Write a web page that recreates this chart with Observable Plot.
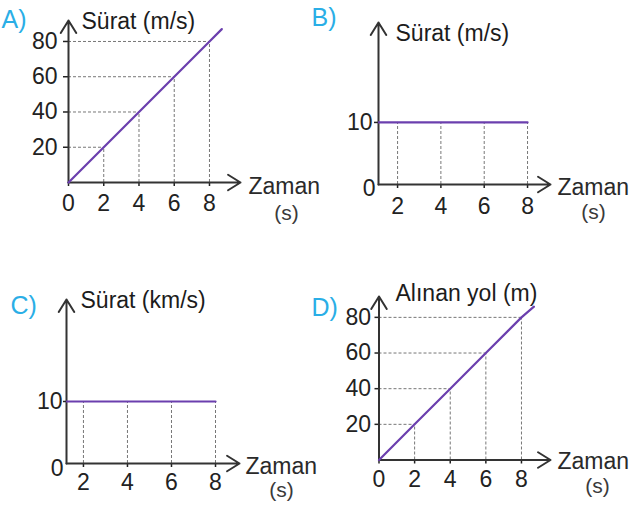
<!DOCTYPE html>
<html>
<head>
<meta charset="utf-8">
<script src="https://cdn.jsdelivr.net/npm/d3@7"></script>
<script src="https://cdn.jsdelivr.net/npm/@observablehq/plot@0.6"></script>
<style>
html, body { margin: 0; padding: 0; background: #fff; }
#chart { position: relative; width: 632px; height: 506px; overflow: hidden; background: #fff; }
#chart svg { position: absolute; left: 0; top: 0; }
</style>
</head>
<body>
<div id="chart"></div>
<script>
// ---------- data ----------
const panelLetters = ["A)", "B)", "C)", "D)"];
const yTitles = ["Sürat (m/s)", "Sürat (m/s)", "Sürat (km/s)", "Alınan yol (m)"];
const xTitle = "Zaman";
const xUnit = "(s)";

const xTicksAD = [0, 2, 4, 6, 8];
const xTicksBC = [2, 4, 6, 8];
const yTicksAD = [20, 40, 60, 80];
const yTicksBC = [10];
const yZeroBC = [0];

const guideTimes = [2, 4, 6, 8];

// A: speed rising linearly
const timesA = [0, 2, 4, 6, 8, 8.7];
const speedA = [0, 20, 40, 60, 80, 87];
const guideA = [20, 40, 60, 80];
// B: constant speed (m/s)
const timesB = [0, 8];
const speedB = [10, 10];
// C: constant speed (km/s)
const timesC = [0, 8];
const speedC = [10, 10];
// D: distance rising linearly
const timesD = [0, 2, 4, 6, 8, 8.7];
const distD = [0, 20, 40, 60, 80, 86];
const guideD = [20, 40, 60, 80];

// ---------- layout / style ----------
const W = 632, H = 506;
const FONT = "'Liberation Sans', Arial, Helvetica, sans-serif";
const AXIS = "#333", INK = "#1c1c1c", PURPLE = "#6b3fae", CYAN = "#2aaee6", GUIDE = "#777";

const pts = (xs, ys) => xs.map((t, i) => ({t, v: ys[i]}));

function panel(cfg) {
  const [x0, x1, y0, y1] = cfg.frame; // page px: axis origin x, arrow tip x, origin y, arrow tip y
  const ml = x0, mr = W - x1, mt = y1, mb = H - y0;
  const lab = (t, px, py, o = {}) => Plot.text([t], {
    text: d => d, frameAnchor: "top-left", dx: px - ml, dy: py - mt,
    lineAnchor: "bottom", textAnchor: "start", fontSize: 23, fill: INK, ...o
  });
  const [xmin, xmax] = cfg.xDomain, [ymin, ymax] = cfg.yDomain;
  const axes = Plot.arrow(
    [{x1: xmin, y1: 0, x2: xmax, y2: 0}, {x1: xmin, y1: 0, x2: xmin, y2: ymax}],
    {x1: "x1", y1: "y1", x2: "x2", y2: "y2", stroke: AXIS, strokeWidth: 2, headLength: 11, headAngle: 64}
  );
  return Plot.plot({
    width: W, height: H,
    marginLeft: ml, marginRight: mr, marginTop: mt, marginBottom: mb,
    x: {domain: cfg.xDomain},
    y: {domain: cfg.yDomain},
    style: {background: "transparent", fontFamily: FONT, overflow: "visible"},
    marks: [...cfg.marks(lab), axes, ...cfg.top(lab)]
  });
}

const guideStyle = {stroke: GUIDE, strokeWidth: 1, strokeDasharray: "3,2"};
const axisStyle = {fontSize: 23, color: "#222", strokeWidth: 1.5, label: null};

function textBlock(lab, i, L, T, Z, S) {
  return [
    lab(panelLetters[i], L[0], L[1], {fill: CYAN, fontSize: 25}),
    lab(yTitles[i], T[0], T[1]),
    lab(xTitle, Z[0], Z[1], {fill: "#2a2a2a"}),
    lab(xUnit, S[0], S[1], {fill: "#3a3a3a", textAnchor: "middle", fontSize: 21})
  ];
}

const panels = [
  // A
  {
    frame: [68, 240, 182, 20], xDomain: [0, 9.76], yDomain: [0, 91.9],
    marks: lab => [
      Plot.ruleX(pts(guideTimes, guideA), {x: "t", y1: 0, y2: "v", ...guideStyle}),
      Plot.ruleY(pts(guideTimes, guideA), {y: "v", x1: 0, x2: "t", ...guideStyle}),
      Plot.axisX({ticks: xTicksAD, tickSize: 4, tickPadding: 8, ...axisStyle}),
      Plot.axisY({ticks: yTicksAD, tickSize: 5, tickPadding: 6, ...axisStyle})
    ],
    top: lab => [
      Plot.line(pts(timesA, speedA), {x: "t", y: "v", stroke: PURPLE, strokeWidth: 2.2}),
      ...textBlock(lab, 0, [1, 27], [81, 28], [248, 193], [286, 219])
    ]
  },
  // B
  {
    frame: [378, 550, 184, 22], xDomain: [1.12, 9.06], yDomain: [0, 26.1],
    marks: lab => [
      Plot.ruleX(pts(guideTimes, guideTimes.map(() => speedB[0])), {x: "t", y1: 0, y2: "v", ...guideStyle}),
      Plot.axisX({ticks: xTicksBC, tickSize: 4, tickPadding: 9, ...axisStyle}),
      Plot.axisY({ticks: yTicksBC, tickSize: 4, tickPadding: 2, ...axisStyle}),
      Plot.axisY({ticks: yZeroBC, tickSize: 0, tickPadding: 3, dy: 4, ...axisStyle})
    ],
    top: lab => [
      Plot.line(pts(timesB, speedB), {x: "t", y: "v", stroke: PURPLE, strokeWidth: 2.2, clip: true}),
      ...textBlock(lab, 1, [311, 25], [395, 40], [557, 194], [593, 218])
    ]
  },
  // C
  {
    frame: [66, 239, 463, 299], xDomain: [1.23, 9.09], yDomain: [0, 26.45],
    marks: lab => [
      Plot.ruleX(pts(guideTimes, guideTimes.map(() => speedC[0])), {x: "t", y1: 0, y2: "v", ...guideStyle}),
      Plot.axisX({ticks: xTicksBC, tickSize: 4, tickPadding: 6, ...axisStyle}),
      Plot.axisY({ticks: yTicksBC, tickSize: 3, tickPadding: 1, ...axisStyle}),
      Plot.axisY({ticks: yZeroBC, tickSize: 0, tickPadding: 3, dy: 5, ...axisStyle})
    ],
    top: lab => [
      Plot.line(pts(timesC, speedC), {x: "t", y: "v", stroke: PURPLE, strokeWidth: 2.2, clip: true}),
      ...textBlock(lab, 2, [10, 313], [80, 307], [245, 473], [281, 496])
    ]
  },
  // D
  {
    frame: [378.5, 550, 459.5, 296], xDomain: [0, 9.63], yDomain: [0, 91.7],
    marks: lab => [
      Plot.ruleX(pts(guideTimes, guideD), {x: "t", y1: 0, y2: "v", ...guideStyle}),
      Plot.ruleY(pts(guideTimes, guideD), {y: "v", x1: 0, x2: "t", ...guideStyle}),
      Plot.axisX({ticks: xTicksAD, tickSize: 4, tickPadding: 6.5, ...axisStyle}),
      Plot.axisY({ticks: yTicksAD, tickSize: 4, tickPadding: 4, ...axisStyle})
    ],
    top: lab => [
      Plot.line(pts(timesD, distD), {x: "t", y: "v", stroke: PURPLE, strokeWidth: 2.2}),
      ...textBlock(lab, 3, [311, 315], [395, 300], [557, 468], [597, 492])
    ]
  }
];

const root = document.getElementById("chart");
for (const p of panels) root.appendChild(panel(p));
</script>
</body>
</html>
